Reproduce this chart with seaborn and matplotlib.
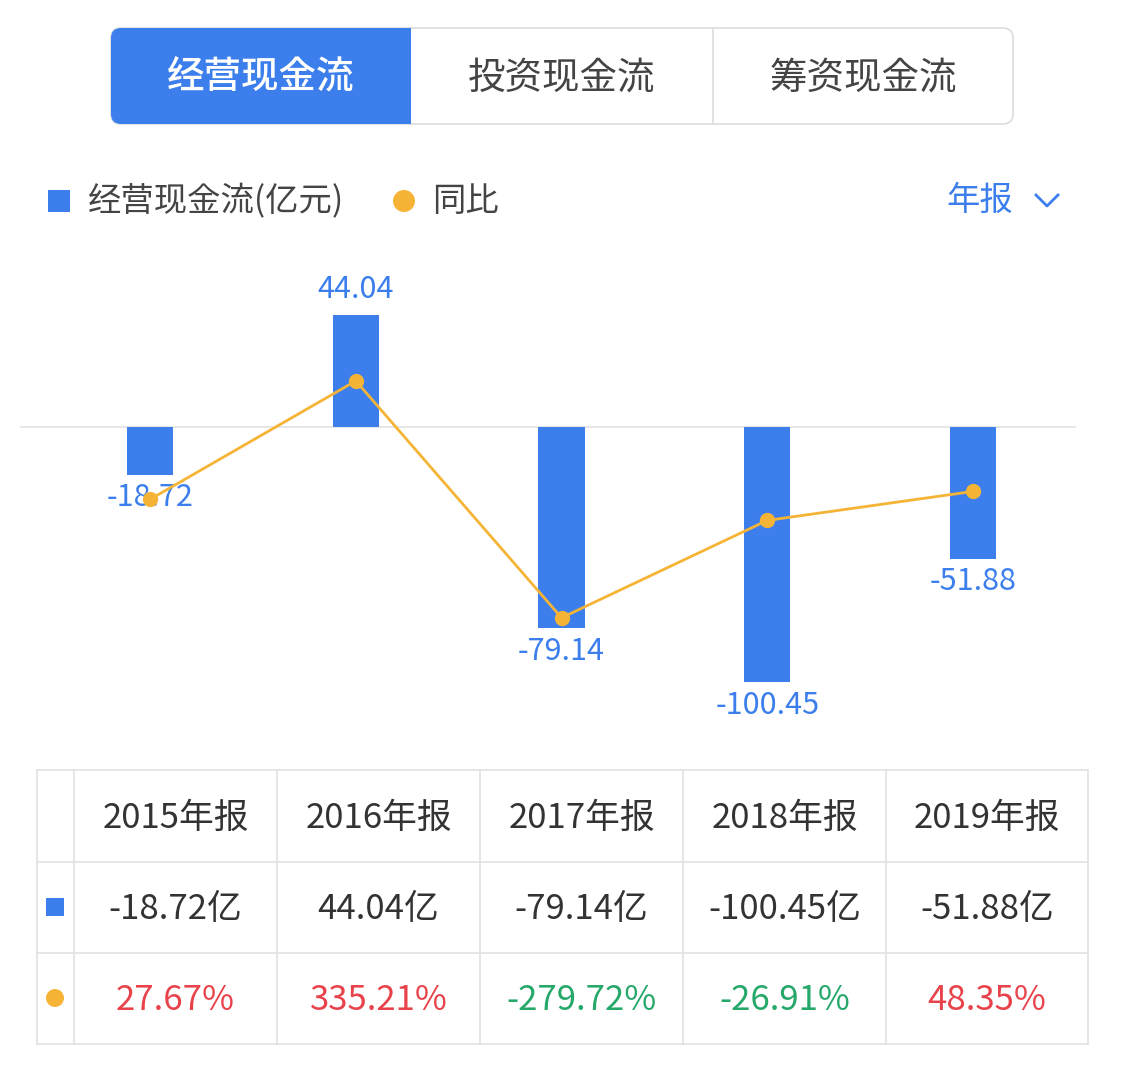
import matplotlib
matplotlib.use("Agg")
import matplotlib.pyplot as plt
from matplotlib.patches import FancyBboxPatch, Rectangle, Circle
import seaborn as sns
import pandas as pd

plt.rcParams["font.family"] = ["Noto Sans CJK JP", "DejaVu Sans"]

years = ["2015年报", "2016年报", "2017年报", "2018年报", "2019年报"]
cash_flow = [-18.72, 44.04, -79.14, -100.45, -51.88]
yoy = [27.67, 335.21, -279.72, -26.91, 48.35]
tabs = ["经营现金流", "投资现金流", "筹资现金流"]

BLUE = "#3C7FEC"
ORANGE = "#F6B436"
RED = "#E8434B"
GREEN = "#26A86B"
DARK = "#333333"

W, H = 1125, 1086
fig = plt.figure(figsize=(W / 100, H / 100), dpi=100)

# overlay in pixel coords
bg = fig.add_axes([0, 0, 1, 1])
bg.set_xlim(0, W)
bg.set_ylim(H, 0)
bg.axis("off")

# tabs
bg.add_patch(FancyBboxPatch((111, 28), 902, 96, boxstyle="round,pad=0,rounding_size=10",
                            fc="white", ec="#DDDDDD", lw=1.2))
bg.add_patch(FancyBboxPatch((111, 28), 300, 96, boxstyle="round,pad=0,rounding_size=10",
                            fc=BLUE, ec=BLUE, lw=0))
bg.add_patch(Rectangle((380, 28), 31, 96, fc=BLUE, ec="none"))
bg.plot([713, 713], [28, 124], color="#DDDDDD", lw=1.2)
for i, t in enumerate(tabs):
    bg.text(261 + i * 301, 78, t, ha="center", va="center", fontsize=27,
            color="white" if i == 0 else "#444444",
            fontweight="medium" if i == 0 else "normal")

# legend
bg.add_patch(Rectangle((48, 190), 22, 22, fc=BLUE, ec="none"))
bg.text(88, 202, "经营现金流(亿元)", va="center", fontsize=24, color="#444444")
bg.add_patch(Circle((404, 201), 11, fc=ORANGE, ec="none"))
bg.text(432, 202, "同比", va="center", fontsize=24, color="#444444")
bg.text(946, 200, "年报", va="center", fontsize=24, color=BLUE)
bg.plot([1036, 1047, 1058], [195, 206, 195], color=BLUE, lw=2)

# chart
df = pd.DataFrame({"year": years, "cash": cash_flow, "yoy": yoy, "x": range(5)})
ax = fig.add_axes([20 / W, 1 - 740 / H, 1056 / W, 490 / H])
sns.barplot(data=df, x="x", y="cash", color=BLUE, width=0.225, saturation=1, ax=ax)
ax.set_xlim(-0.632, 4.50)
ax.set_ylim(-123.2, 69.7)
ax.axhline(0, color="#E3E3E3", lw=1.2, zorder=0)
ax.axis("off")
for i, v in enumerate(cash_flow):
    ax.text(i, v + (4 if v > 0 else -3), f"{v:.2f}", ha="center",
            va="bottom" if v > 0 else "top", fontsize=22, color=BLUE)

ax2 = ax.twinx()
sns.lineplot(data=df, x="x", y="yoy", color=ORANGE, lw=2, marker="o", markersize=11,
             markeredgecolor=ORANGE, markeredgewidth=0, ax=ax2)
ax2.set_xlim(-0.632, 4.50)
ax2.set_ylim(-597, 675)
ax2.axis("off")

# table
cols = [37, 74, 277, 480, 683, 886, 1088]
rows = [770, 862, 953, 1044]
lc = "#E2E2E2"
for x in cols:
    bg.plot([x, x], [rows[0], rows[-1]], color=lc, lw=1.2)
for y in rows:
    bg.plot([cols[0], cols[-1]], [y, y], color=lc, lw=1.2)
bg.add_patch(Rectangle((46, 898), 18, 18, fc=BLUE, ec="none"))
bg.add_patch(Circle((55, 998), 9, fc=ORANGE, ec="none"))
for i in range(5):
    cx = (cols[i + 1] + cols[i + 2]) / 2
    bg.text(cx, 818, years[i], ha="center", va="center", fontsize=25, color=DARK)
    bg.text(cx, 910, f"{cash_flow[i]:.2f}亿", ha="center", va="center", fontsize=25, color=DARK)
    bg.text(cx, 1001, f"{yoy[i]:.2f}%", ha="center", va="center", fontsize=25,
            color=RED if yoy[i] > 0 else GREEN)

fig.savefig("out.png", dpi=100, facecolor="white")
